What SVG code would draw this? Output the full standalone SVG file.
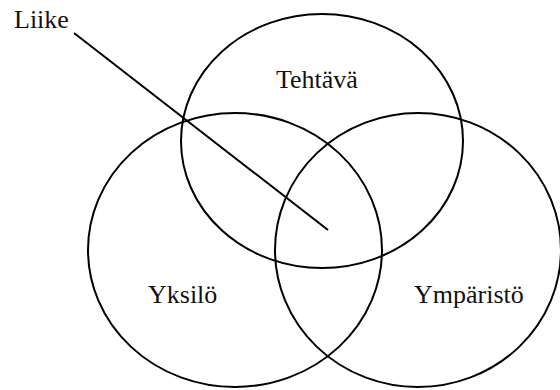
<svg xmlns="http://www.w3.org/2000/svg" width="560" height="390" viewBox="0 0 560 390">
<style>
.e{fill:none;stroke:#000;stroke-width:2}
.t{font-family:"Liberation Serif","Times New Roman",serif;font-size:26px;fill:#111}
</style>
<rect width="560" height="390" fill="#fff"/>
<g id="tehtava"><ellipse class="e" cx="322" cy="141" rx="141" ry="127"/><text class="t" x="276" y="88">Tehtävä</text></g>
<g id="yksilo"><ellipse class="e" cx="235" cy="250" rx="147" ry="137"/><text class="t" x="148" y="303">Yksilö</text></g>
<g id="ymparisto"><ellipse class="e" cx="418" cy="250" rx="143" ry="137"/><text class="t" x="414" y="303">Ympäristö</text></g>
<g id="liike"><text class="t" x="14" y="28">Liike</text></g>
<g id="connectors"><line x1="74" y1="33" x2="328" y2="230" stroke="#000" stroke-width="2"/></g>
</svg>
